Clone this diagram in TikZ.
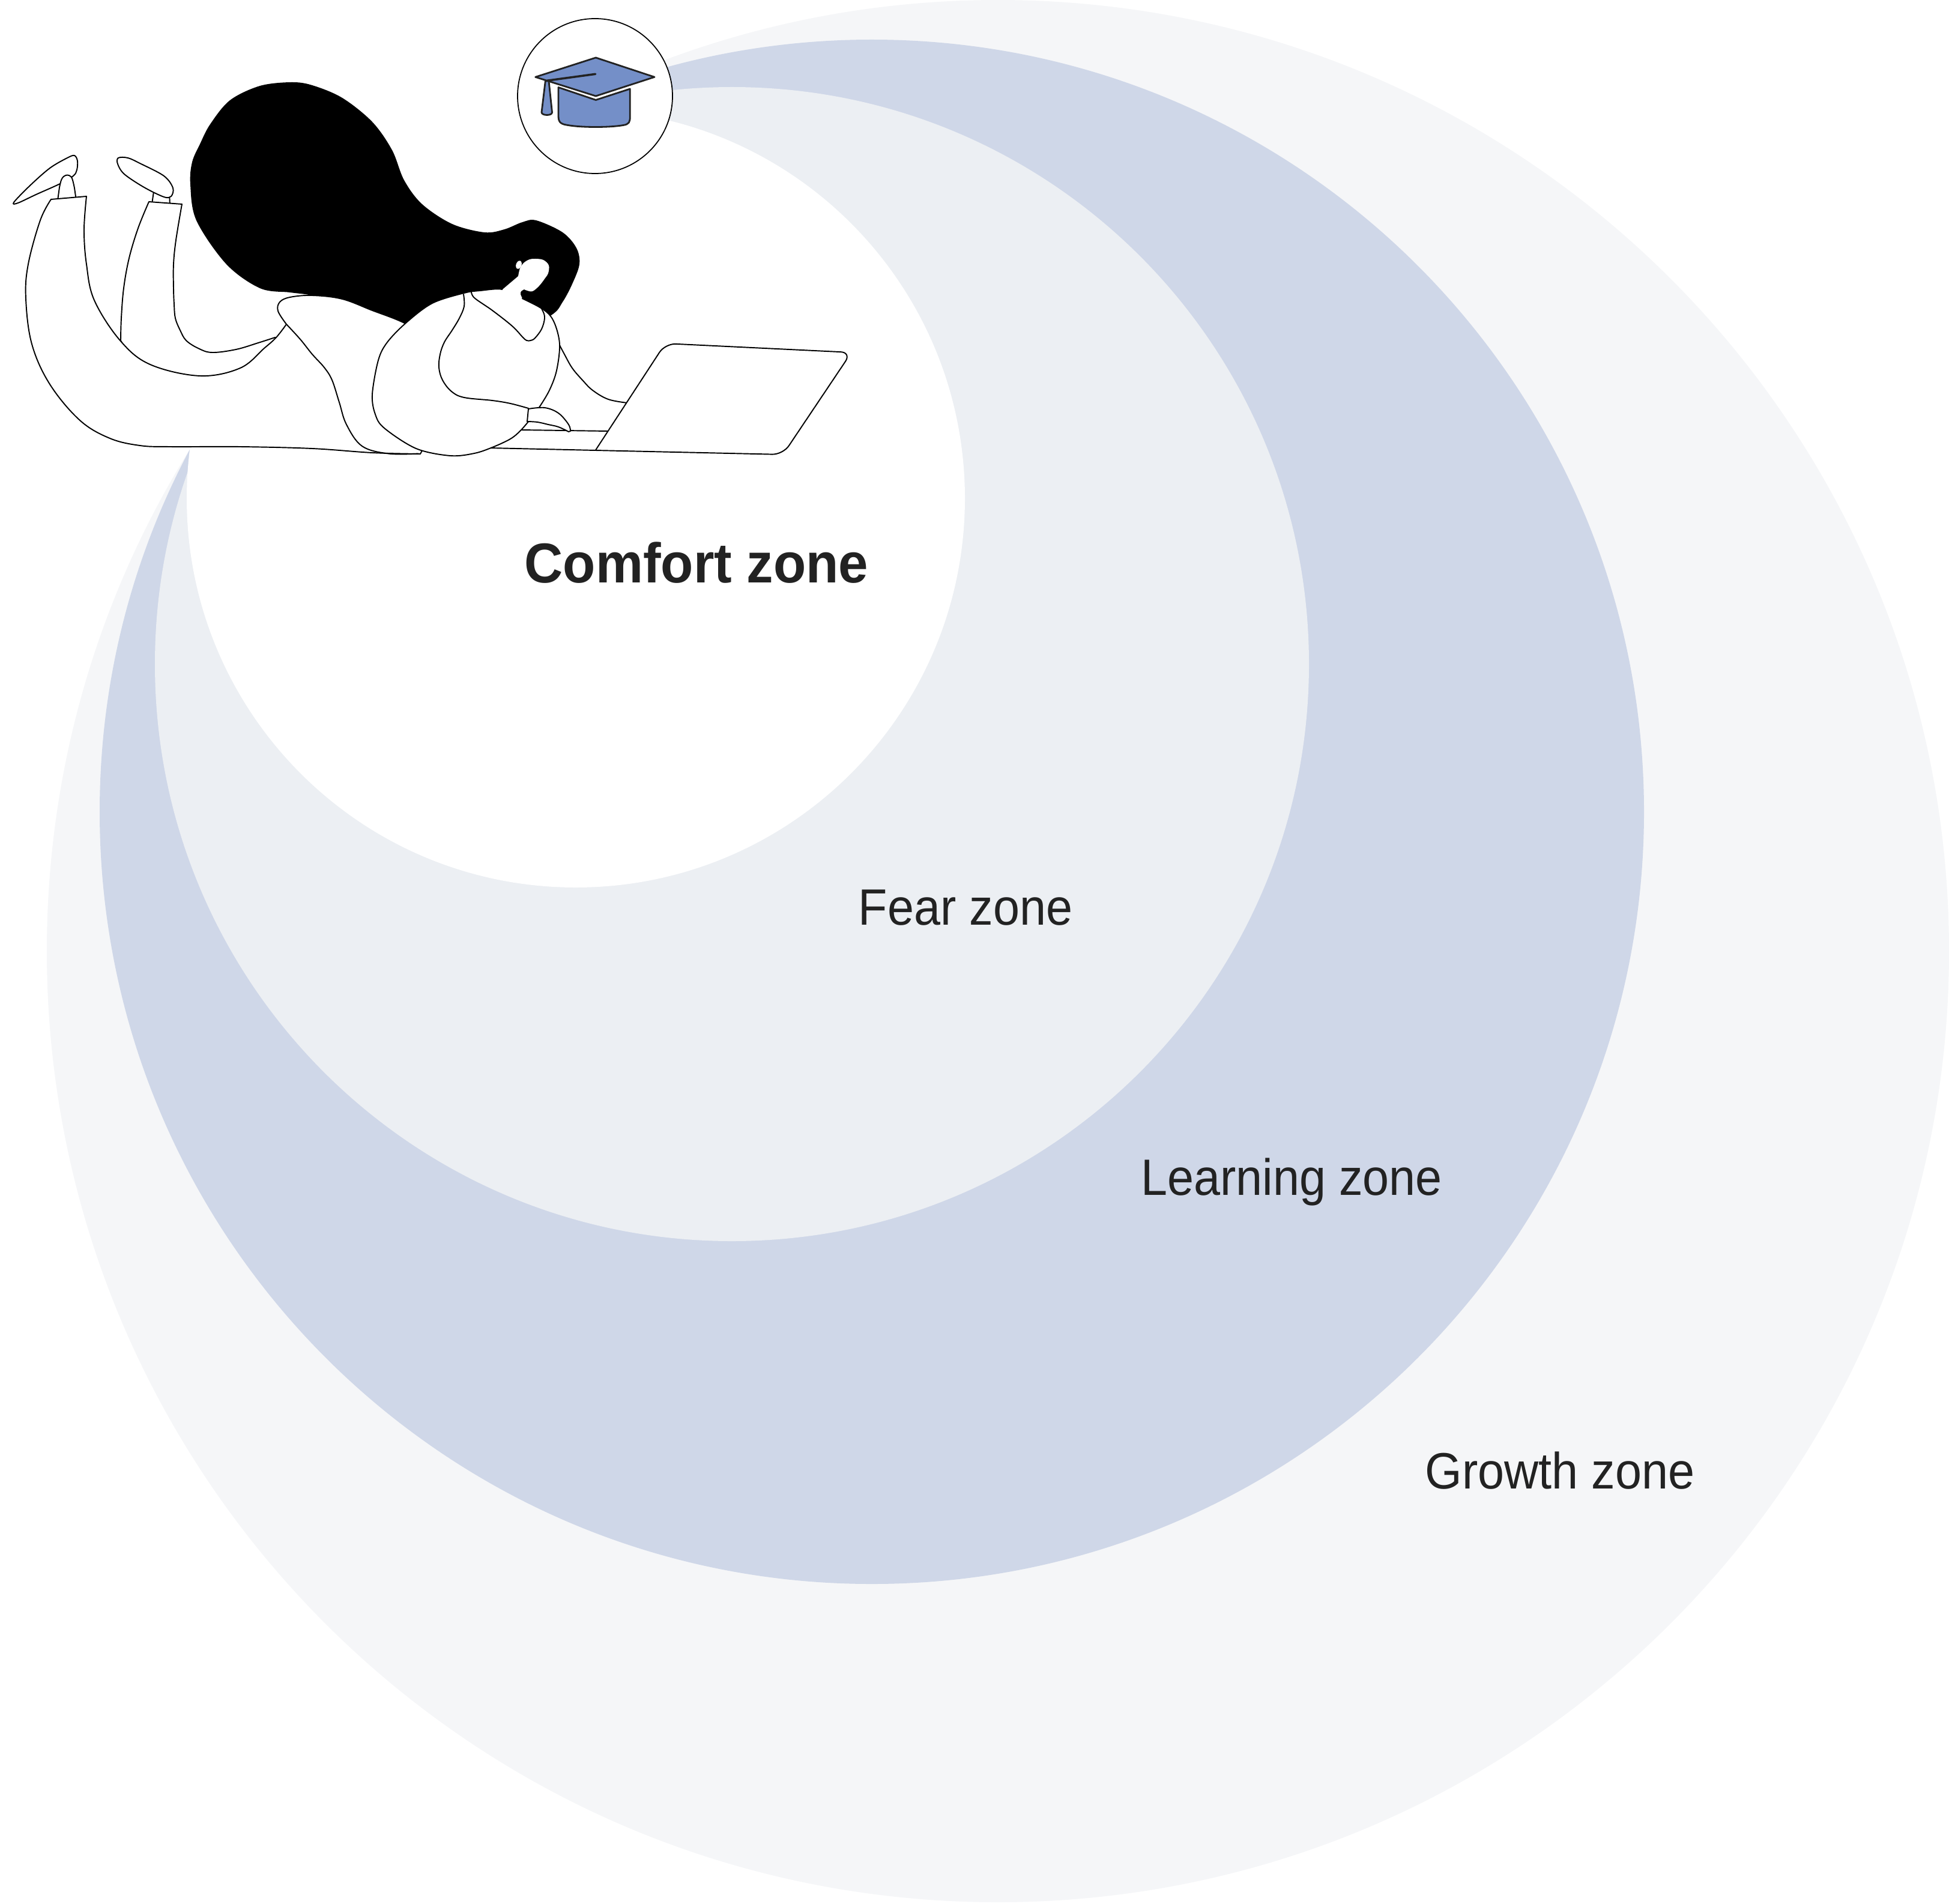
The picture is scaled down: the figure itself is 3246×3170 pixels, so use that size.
\documentclass[tikz,border=0pt]{standalone}
\usepackage{fontspec}
\setmainfont{Liberation Sans}
\newfontfamily\zonefont[FakeStretch=0.93]{Liberation Sans}
\newfontfamily\zonebold[FakeStretch=0.95]{Liberation Sans Bold}
\usetikzlibrary{positioning}
\definecolor{growthgray}{HTML}{F5F6F8}
\definecolor{learnblue}{HTML}{CFD7E8}
\definecolor{feargray}{HTML}{ECEFF3}
\definecolor{capblue}{HTML}{748FC8}
\definecolor{inkdark}{HTML}{222222}
\tikzset{
  outline/.style={draw=black, line width=0.55pt, line join=round, line cap=round},
  body/.style={outline, fill=white},
  capfill/.style={draw=inkdark, line width=0.8pt, fill=capblue, line join=round},
  zonelabel/.style={text=inkdark, anchor=base, font=\zonefont\fontsize{24.2}{29}\selectfont}
}

\begin{document}
\begin{tikzpicture}[x=0.01cm, y=-0.01cm]
  \useasboundingbox (0,0) rectangle (3246,3170);
  % Zones, outermost first
  \fill[growthgray] (1662,1584) circle[radius=1584];
  \fill[learnblue] (1452,1352) circle[radius=1286];
  \fill[feargray] (1219,1106) circle[radius=961];
  \fill[white] (959,830) circle[radius=648];

  % Badge with the mortarboard
  \draw[fill=white, line width=0.5pt] (991,160) circle[radius=129];
  \filldraw[capfill] (930,145.5) -- (930,194) .. controls (930,205) and (936,207) .. (946,208.5)
    .. controls (968,212.5) and (1016,212.5) .. (1038,208.5)
    .. controls (1048,207) and (1049.3,203) .. (1049.3,194) -- (1049.3,148) -- (992.3,166.5) -- cycle;
  \filldraw[capfill] (891.7,128.3) -- (992.3,96) -- (1090,128.3) -- (992.3,160) -- cycle;
  \filldraw[capfill] (908.3,135) -- (914,135) -- (919.5,187) .. controls (920,193) and (902,193) .. (902,187) -- cycle;
  \draw[inkdark, line width=1pt, line cap=round] (911,134.3) -- (991.7,123.3);

  % Hair
  \fill[black] plot[smooth cycle, tension=0.55] coordinates {(317,307) (320,270) (333,240) (350,207)
    (383,167) (433,143) (485,137) (520,142) (570,163) (620,203) (653,250) (673,300) (703,340)
    (753,373) (807,387) (840,382) (870,370) (893,367) (937,387) (960,413) (965,440) (953,473)
    (937,503) (918,525) (850,560) (720,580) (640,540) (570,505) (520,492) (483,487) (433,480)
    (377,440) (327,367)};

  % Feet
  \filldraw[body] plot[smooth cycle, tension=0.55] coordinates {(23,337) (50,309) (83,280) (112,263)
    (124,259) (129,268) (128,283) (122,293) (100,306) (60,324) (30,338)};
  \filldraw[body] (96,334) -- plot[smooth, tension=0.6] coordinates {(99,312) (102,300) (106,294)
    (112,291.5) (118,294) (121,300) (124,313)} -- (127,334) -- cycle;
  \filldraw[body] (257,312) -- (253,340) -- (283,342) -- (282,320) -- cycle;
  \filldraw[body] plot[smooth cycle, tension=0.55] coordinates {(197,263) (213,263) (233,272)
    (273,293) (288,313) (285,327) (273,328) (240,312) (207,290) (196,273)};

  % Back leg
  \filldraw[body] plot[smooth, tension=0.6] coordinates {(248,336) (230,380) (215,430) (206,480)
    (202,530) (201,567)} -- (240,640) -- (340,665) -- (440,620) -- (470,565)
    -- plot[smooth, tension=0.6] coordinates {(458,562) (430,571) (393,582) (353,587) (330,580)
    (310,567) (300,550) (292,530) (290,507) (289,480) (289,440) (293,400) (303,340)} -- cycle;

  % Front leg and hip
  \filldraw[body] (85,332) -- plot[smooth, tension=0.6] coordinates {(85,332) (67,367) (47,440)
    (43,497) (53,573) (83,640) (133,700) (183,730) (233,742) (283,744) (400,744) (520,747)
    (620,754) (700,756)} -- (730,700) -- (700,560)
    -- plot[smooth, tension=0.6] coordinates {(695,548) (660,532) (620,517) (570,498) (520,492)
    (483,495) (466,503) (463,518) (477,540)}
    -- plot[smooth, tension=0.6] coordinates {(477,540) (460,562) (440,580) (400,613) (333,626)
    (250,607) (200,567) (157,500) (144,440) (140,383) (144,327)} -- cycle;
  \draw[outline] plot[smooth, tension=0.6] coordinates {(477,540) (500,565) (520,590) (540,612)
    (553,633) (565,670) (577,707) (603,743) (647,755.5) (697,755.5)};

  % Laptop
  \draw[outline] plot[smooth, tension=0.6] coordinates {(931,573) (940,590) (953,613) (970,633)
    (987,650) (1013,665) (1045,671)};
  \draw[outline] (868,716) -- (1013,718);
  \draw[outline] (815,746) -- (991.7,750);
  \filldraw[body, rounded corners=5pt] (991.7,750) -- (1108,572) -- (1418,587) -- (1304,757) -- (991.7,750);

  % Shoulder and arm
  \filldraw[body] plot[smooth cycle, tension=0.55] coordinates {(773,488) (720,505) (677,537)
    (645,570) (630,600) (620,657) (625,690) (640,713) (693,747) (750,759) (790,755) (820,745)
    (850,731) (867,717) (885,696) (897,680) (915,650) (927,617) (932,573) (923,537) (907,517)
    (870,497) (837,482) (800,484)};

  % Face and neck
  \fill[white] (838,500) -- (837,482) -- (863,460)
    -- plot[smooth, tension=0.6] coordinates {(863,460) (866,447) (872,438) (882,432) (892,431)
    (905,433) (914,442) (913,455) (908,463) (898,476) (887,485) (878,484) (873,482)}
    -- plot[smooth, tension=0.6] coordinates {(873,482) (868,485) (867,490) (870,497)}
    -- (855,505) -- cycle;
  \fill[white, rotate around={-20:(864,441)}] (864,441) ellipse[x radius=4.5, y radius=7];

  % Collar, arm line and hand
  \draw[outline] plot[smooth, tension=0.6] coordinates {(785,485) (790,496) (820,517) (853,543)
    (870,561) (877,567) (884,567) (891,563) (902,548) (907,530) (904,518) (897,510) (870,497)};
  \draw[outline] plot[smooth, tension=0.6] coordinates {(772,490) (773,510) (765,530) (753,550)
    (740,570) (733,590) (731,612) (737,633) (752,652) (773,662) (820,667) (850,672) (880,680)};
  \filldraw[body] (880,681) -- plot[smooth, tension=0.6] coordinates {(880,681) (907,679) (930,688)
    (947,707) (950,718)} -- (947,719)
    -- plot[smooth, tension=0.6] coordinates {(947,719) (930,711) (913,707) (895,703) (878,702)} -- cycle;

  % Zone labels
  \node[zonelabel, font=\zonebold\fontsize{26.6}{32}\selectfont] (comfort) at (1160,970.7) {Comfort zone};
  \node[zonelabel] (fear) at (1608,1540.7) {Fear zone};
  \node[zonelabel] (learning) at (2151,1990) {Learning zone};
  \node[zonelabel] (growth) at (2598,2479) {Growth zone};
\end{tikzpicture}
\end{document}
